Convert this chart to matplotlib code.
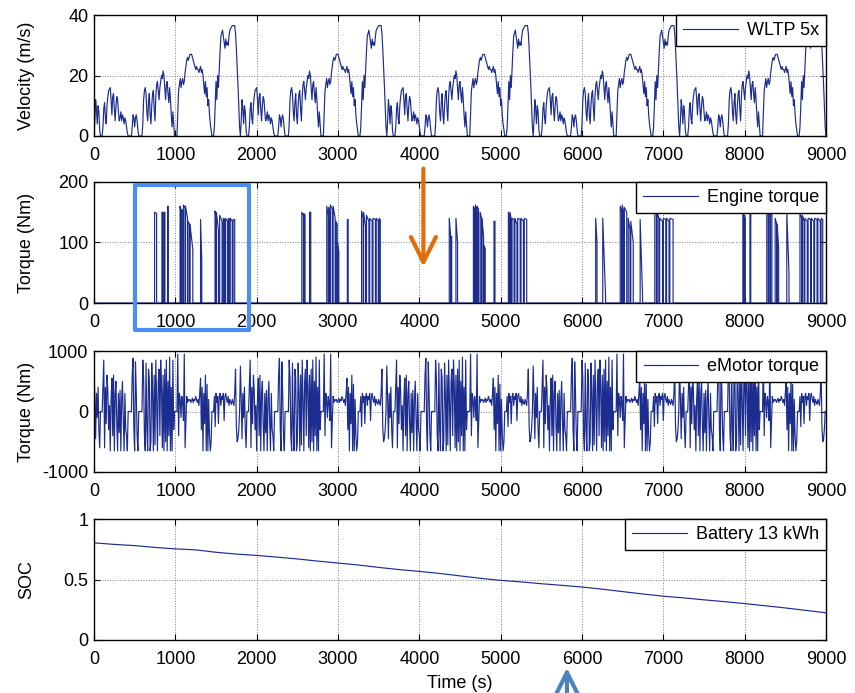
import numpy as np
import matplotlib
matplotlib.use("Agg")
import matplotlib.pyplot as plt
from matplotlib.patches import Rectangle

# ---- data ------------------------------------------------------------------
CYCLE_STEP = 10  # s between velocity / eMotor samples
N_CYCLES = 5

# one WLTP cycle (m/s), sampled every 10 s, 0..1790 s
VELOCITY_CYCLE = [
    0, 5, 12, 9, 4, 10, 8, 2, 0, 0,
    0, 3, 9, 11, 6, 4, 10, 13, 15, 15.5,
    16, 12, 7, 13, 14, 9, 5, 10, 13, 12,
    8, 5, 6, 8, 5, 7, 6, 4, 6, 5,
    3, 1, 0, 0, 0, 0, 0, 3, 7, 6,
    3, 6, 7, 5, 2, 0, 0, 0, 0, 0,
    4, 12, 15, 16, 14, 8, 5, 11, 14, 7,
    4, 10, 14, 15, 9, 5, 13, 17, 18, 15,
    12, 16, 18, 20, 19, 21.5, 20, 16, 12, 17,
    18, 14, 11, 16, 12, 7, 3, 8, 4, 0,
    0, 0, 0, 8, 15, 17, 19, 16, 18, 19,
    17, 18, 21, 23, 25, 26, 25, 26, 27, 27,
    27, 26, 25, 24, 23, 22, 23, 22, 22, 21,
    22, 23, 21, 22, 20, 17, 14, 18, 13, 16,
    10, 12, 7, 4, 2, 0, 0, 0, 3, 10,
    18, 12, 20, 16, 22, 28, 33, 34, 35, 33,
    31, 29, 32, 30, 31, 30, 33, 35, 35.5, 36,
    36.5, 36.5, 36.5, 36.5, 34, 29, 23, 17, 10, 3,
]

# eMotor torque over one cycle (Nm), same sampling
EMOTOR_CYCLE = [
    750, 200, -450, 300, -100, 400, -300, -600, 0, 0,
    0, 450, 850, -600, 400, -200, 600, 350, -300, 100,
    -650, 200, 550, -400, 600, -650, 300, 500, -200, -650,
    300, -350, 350, -650, 200, 500, -150, -650, 300, -300,
    -400, -650, 0, 0, 0, 0, 0, 600, 880, -300,
    -650, 820, 300, -400, -650, 0, 0, 0, 0, 0,
    850, 550, -400, -650, 800, -300, -650, 700, 550, -650,
    -500, 800, 300, -650, 600, -550, 850, 200, -650, 500,
    700, -400, 850, 400, -600, 600, -650, 700, -500, 850,
    -650, 500, -400, 900, -650, 400, -650, 850, -300, 0,
    0, 0, 0, 950, -400, 300, 200, -100, 250, 150,
    -150, 950, -600, -200, 250, 150, 200, 180, 200, 150,
    180, 220, 150, 200, 180, 250, 200, 150, 200, 100,
    300, 550, -300, 400, -650, 300, -200, 600, -650, 450,
    -650, 200, -400, -650, -500, 0, 0, 0, 250, -250,
    300, 150, 250, -200, 250, 300, 100, 250, 200, 300,
    -150, 250, 300, 200, 150, 250, 100, 200, 150, 120,
    200, 150, 100, 300, 700, -250, -500, -450, -300, 0,
]

# engine firing pulses: on time, off time (s), torque at start / end (Nm)
ENGINE_ON = [
    745, 835, 860, 905, 1058, 1078, 1100, 1125, 1155, 1180, 1310,
    1488, 1505, 1545, 1590, 1615, 1650, 1675, 1710,
    2555, 2580, 2650, 2862, 2885, 2905, 2940, 2975, 2995, 3115,
    3290, 3315, 3350, 3390, 3430, 3470, 3505,
    4368, 4388, 4450, 4665, 4690, 4710, 4748, 4770, 4795, 4918,
    5095, 5115, 5140, 5175, 5210, 5250, 5290,
    6168, 6255, 6470, 6495, 6520, 6568, 6600, 6715,
    6895, 6925, 6955, 7000, 7040, 7080,
    7978, 7995, 8065, 8272, 8295, 8318, 8375, 8400, 8518,
    8680, 8710, 8740, 8780, 8820, 8860, 8900, 8940,
]
ENGINE_OFF = [
    770, 845, 872, 912, 1072, 1095, 1120, 1150, 1175, 1215, 1325,
    1500, 1530, 1575, 1605, 1640, 1665, 1700, 1730,
    2575, 2595, 2665, 2880, 2900, 2930, 2965, 2990, 3010, 3125,
    3310, 3340, 3380, 3420, 3460, 3495, 3520,
    4385, 4398, 4470, 4680, 4705, 4728, 4765, 4790, 4810, 4930,
    5110, 5130, 5165, 5200, 5240, 5280, 5320,
    6185, 6290, 6490, 6515, 6550, 6590, 6630, 6745,
    6915, 6945, 6990, 7030, 7070, 7120,
    7990, 8008, 8075, 8290, 8312, 8335, 8395, 8418, 8545,
    8700, 8730, 8770, 8810, 8850, 8890, 8930, 8960,
]
ENGINE_TQ_START = [
    150, 150, 150, 160, 160, 155, 162, 160, 135, 130, 138,
    152, 150, 145, 140, 140, 140, 140, 138,
    150, 148, 150, 160, 158, 162, 160, 135, 100, 138,
    152, 150, 145, 140, 140, 140, 140,
    140, 110, 140, 160, 162, 160, 150, 140, 95, 135,
    150, 150, 140, 140, 140, 140, 140,
    140, 140, 160, 162, 158, 140, 135, 138,
    160, 150, 140, 140, 140, 140,
    150, 145, 150, 162, 160, 158, 140, 130, 150,
    150, 145, 140, 140, 140, 140, 140, 140,
]
ENGINE_TQ_END = [
    148, 150, 150, 160, 148, 150, 158, 140, 130, 88, 70,
    140, 120, 135, 138, 135, 138, 135, 138,
    145, 145, 150, 145, 150, 155, 140, 130, 85, 138,
    140, 125, 135, 135, 138, 135, 138,
    110, 110, 100, 155, 150, 155, 140, 110, 90, 135,
    140, 138, 138, 130, 138, 135, 138,
    100, 10, 150, 145, 150, 120, 100, 10,
    150, 140, 135, 138, 135, 138,
    145, 140, 150, 150, 150, 150, 130, 90, 50,
    140, 135, 135, 138, 135, 138, 135, 138,
]

# battery state of charge
SOC_TIME = [0, 250, 500, 750, 1000, 1250, 1500, 1750, 2000, 2250, 2500, 2750,
            3000, 3250, 3500, 3750, 4000, 4250, 4500, 4750, 5000, 5250, 5500,
            5750, 6000, 6250, 6500, 6750, 7000, 7250, 7500, 7750, 8000, 8250,
            8500, 8750, 9000]
SOC = [0.803, 0.79, 0.78, 0.765, 0.753, 0.745, 0.725, 0.71, 0.699, 0.685,
       0.67, 0.652, 0.636, 0.62, 0.60, 0.582, 0.567, 0.55, 0.53, 0.51, 0.493,
       0.48, 0.465, 0.452, 0.438, 0.42, 0.40, 0.38, 0.362, 0.348, 0.332,
       0.317, 0.301, 0.283, 0.265, 0.245, 0.225]

X_TICKS = list(range(0, 9001, 1000))

# ---- assemble series --------------------------------------------------------
velocity = np.append(np.tile(VELOCITY_CYCLE, N_CYCLES), 0.0)
emotor = np.append(np.tile(EMOTOR_CYCLE, N_CYCLES), 0.0)
t = np.arange(velocity.size) * CYCLE_STEP

eng_t, eng_q = [0.0], [0.0]
for on, off, q0, q1 in zip(ENGINE_ON, ENGINE_OFF, ENGINE_TQ_START, ENGINE_TQ_END):
    eng_t += [on, on, off, off]
    eng_q += [0.0, q0, q1, 0.0]
eng_t.append(9000.0)
eng_q.append(0.0)

# ---- figure -----------------------------------------------------------------
plt.rcParams["font.family"] = ["Liberation Sans", "DejaVu Sans"]
plt.rcParams["font.size"] = 13

LINE = "#1c2d8f"
FS = 13
W, H = 855, 693
fig = plt.figure(figsize=(W / 100, H / 100), dpi=100)

left, width = 94 / W, 732 / W
tops = [15, 182, 351, 519]
h = 121 / H
axes = [fig.add_axes([left, 1 - (top + 121) / H, width, h]) for top in tops]

panels = [
    (t, velocity, "WLTP 5x", "Velocity (m/s)", (0, 40), [0, 20, 40], ["0", "20", "40"]),
    (eng_t, eng_q, "Engine torque", "Torque (Nm)", (0, 200), [0, 100, 200], ["0", "100", "200"]),
    (t, emotor, "eMotor torque", "Torque (Nm)", (-1000, 1000), [-1000, 0, 1000], ["-1000", "0", "1000"]),
    (SOC_TIME, SOC, "Battery 13 kWh", "SOC", (0, 1), [0, 0.5, 1], ["0", "0.5", "1"]),
]

for ax, (x, y, lab, ylab, ylim, yt, ytl) in zip(axes, panels):
    ax.plot(x, y, color=LINE, linewidth=0.85, label=lab)
    ax.set_xlim(0, 9000)
    ax.set_ylim(*ylim)
    ax.set_xticks(X_TICKS)
    ax.set_yticks(yt)
    ax.set_yticklabels(ytl)
    ax.grid(True, linestyle=":", color="#808080", linewidth=0.7)
    ax.tick_params(direction="in", top=True, right=True, length=4.5, width=0.8,
                   labelsize=FS)
    ax.tick_params(axis="x", pad=8)
    ax.tick_params(axis="y", pad=4)
    for s in ax.spines.values():
        s.set_linewidth(1.0)
    ax.set_ylabel(ylab, fontsize=FS)
    ax.yaxis.set_label_coords(-0.08, 0.5)
    leg = ax.legend(loc="upper right", borderaxespad=0, fancybox=False,
                    edgecolor="black", framealpha=1, fontsize=FS,
                    handlelength=3.0, handletextpad=0.5, borderpad=0.4)
    leg.get_frame().set_linewidth(1.0)

axes[3].set_xlabel("Time (s)", fontsize=FS, labelpad=5)

# annotations: highlight box, orange and blue arrows
ax2 = axes[1]
ax2.add_patch(Rectangle((500, -45), 1400, 240, fill=False, edgecolor="#4c8ff2",
                        linewidth=3.0, joinstyle="round", clip_on=False, zorder=5))
ax2.annotate("", xy=(4050, 60), xytext=(4050, 222), annotation_clip=False,
             arrowprops=dict(arrowstyle="->,head_length=0.9,head_width=0.45",
                             color="#e36c0a", linewidth=3.0, mutation_scale=20,
                             shrinkA=0, shrinkB=0))
axes[3].annotate("", xy=(5815, -0.23), xytext=(5815, -0.45), annotation_clip=False,
                 arrowprops=dict(arrowstyle="->,head_length=0.9,head_width=0.45",
                                 color="#4f81bd", linewidth=3.0, mutation_scale=20,
                                 shrinkA=0, shrinkB=0))

fig.savefig("out.png", dpi=100)
